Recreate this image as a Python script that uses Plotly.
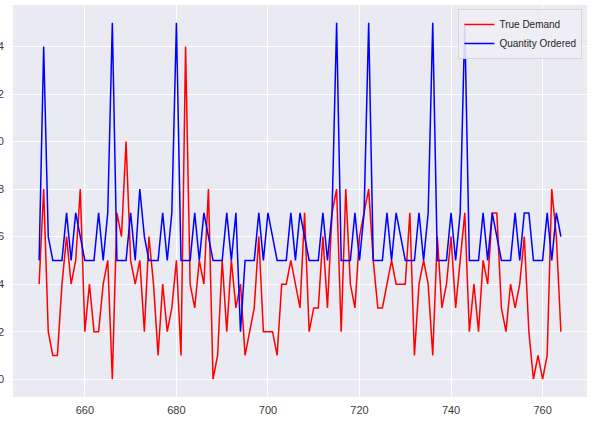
import plotly.graph_objects as go

days = list(range(650, 765))

true_demand = [
    4, 8, 2, 1, 1, 4, 6, 4, 5, 8,
    2, 4, 2, 2, 4, 5, 0, 7, 6, 10,
    5, 4, 5, 2, 6, 4, 1, 4, 2, 3,
    5, 1, 14, 4, 3, 5, 4, 8, 0, 1,
    5, 2, 5, 3, 4, 1, 2, 3, 6, 2,
    2, 2, 1, 4, 4, 5, 4, 3, 7, 2,
    3, 3, 6, 3, 7, 8, 2, 8, 4, 3,
    6, 7, 8, 5, 3, 3, 4, 5, 4, 4,
    4, 7, 1, 4, 5, 4, 1, 6, 3, 4,
    6, 3, 5, 7, 2, 4, 2, 5, 4, 7,
    7, 3, 2, 4, 3, 4, 6, 2, 0, 1,
    0, 1, 8, 6, 2,
]

quantity_ordered = [
    5, 14, 6, 5, 5, 5, 7, 5, 7, 6,
    5, 5, 5, 7, 5, 7, 15, 5, 5, 5,
    7, 5, 8, 6, 5, 5, 5, 7, 5, 7,
    15, 5, 5, 5, 7, 5, 7, 6, 5, 5,
    5, 7, 5, 7, 2, 5, 5, 5, 7, 5,
    7, 6, 5, 5, 5, 7, 5, 7, 6, 5,
    5, 5, 7, 5, 7, 15, 5, 5, 5, 7,
    5, 7, 15, 5, 5, 5, 7, 5, 7, 6,
    5, 5, 5, 7, 5, 7, 15, 5, 5, 5,
    7, 5, 7, 15, 5, 5, 5, 7, 5, 7,
    6, 5, 5, 5, 7, 5, 7, 7, 5, 5,
    5, 7, 5, 7, 6,
]

x_ticks = [660, 680, 700, 720, 740, 760]
y_ticks = [0, 2, 4, 6, 8, 10, 12, 14]

fig = go.Figure()
fig.add_trace(go.Scatter(x=days, y=true_demand, mode="lines", name="True Demand",
                         line=dict(color="#FF0000", width=1.5)))
fig.add_trace(go.Scatter(x=days, y=quantity_ordered, mode="lines", name="Quantity Ordered",
                         line=dict(color="#0000FF", width=1.5)))

font_family = "Liberation Sans, Arial, DejaVu Sans, sans-serif"

fig.update_layout(
    width=597, height=422,
    margin=dict(l=13, r=10, t=5, b=25),
    paper_bgcolor="white",
    plot_bgcolor="#EAEAF2",
    font=dict(family=font_family, size=11, color="#262626"),
    showlegend=True,
    legend=dict(
        x=0.992, y=0.99, xanchor="right", yanchor="top",
        bgcolor="rgba(238,238,244,0.9)", bordercolor="#D6D6DE", borderwidth=1,
        font=dict(size=10, color="#262626"),
        itemwidth=30, tracegroupgap=0,
    ),
    xaxis=dict(
        range=[644.3, 769.7], tickvals=x_ticks, showgrid=True, gridcolor="white",
        gridwidth=1, zeroline=False, showline=False, ticks="",
        automargin=False, ticklabelstandoff=5, tickfont=dict(size=11, color="#3A3A3A"),
    ),
    yaxis=dict(
        range=[-0.75, 15.75], tickvals=y_ticks, showgrid=True, gridcolor="white",
        gridwidth=1, zeroline=False, showline=False, ticks="",
        automargin=False, ticklabelstandoff=8, tickfont=dict(size=11, color="#3A3A3A"),
    ),
)

fig.write_html("out.html")
